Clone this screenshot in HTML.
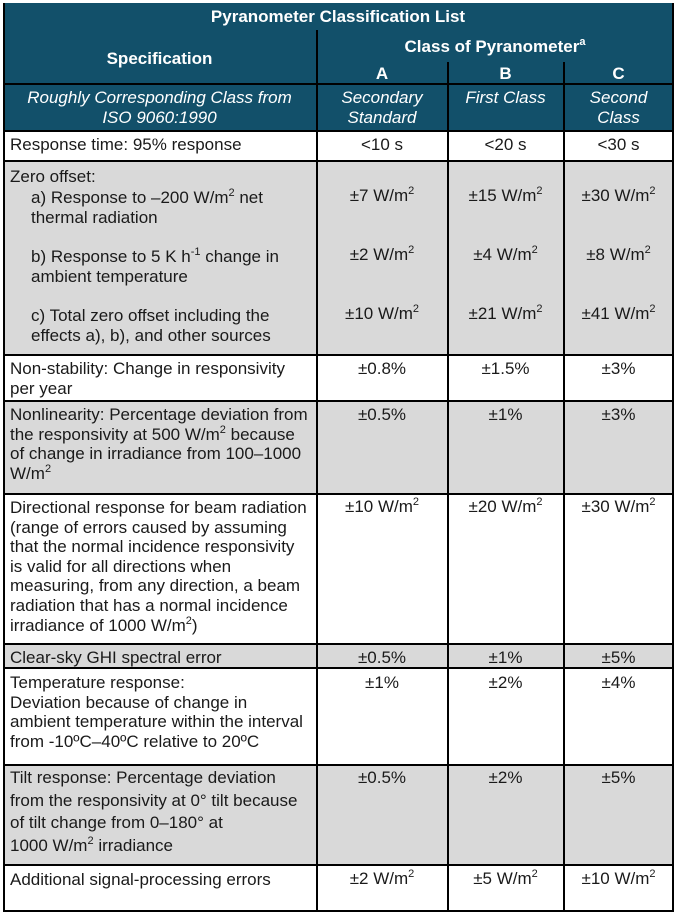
<!DOCTYPE html><html><head><style>
body{margin:0;width:675px;height:915px;background:#fff;position:relative;font-family:"Liberation Sans",Arial,sans-serif;font-size:17px;color:#1a1a1a;overflow:hidden}
.a{position:absolute}
.h{background:#12506a;color:#fff}
.g{background:#d9d9d9}
.t{position:absolute;line-height:19.6px;white-space:nowrap}
.c{text-align:center}
.vl{position:absolute;width:1.5px;background:#000}
.hl{position:absolute;height:1.5px;background:#000;left:3px;width:670px}
sup{font-size:11px;line-height:0;vertical-align:7px}
</style></head><body>
<div class="a h" style="left:3px;top:3px;width:670px;height:128px"></div>
<div class="a g" style="left:3px;top:161px;width:670px;height:193px"></div>
<div class="a g" style="left:3px;top:401px;width:670px;height:92px"></div>
<div class="a g" style="left:3px;top:644px;width:670px;height:24px"></div>
<div class="a g" style="left:3px;top:764px;width:670px;height:100px"></div>
<div class="hl" style="top:83px"></div>
<div class="hl" style="top:130px"></div>
<div class="hl" style="top:160px"></div>
<div class="hl" style="top:354px"></div>
<div class="hl" style="top:400px"></div>
<div class="hl" style="top:493px"></div>
<div class="hl" style="top:643px"></div>
<div class="hl" style="top:667px"></div>
<div class="hl" style="top:764px"></div>
<div class="hl" style="top:864px"></div>
<div class="hl" style="top:910px"></div>
<div class="vl" style="left:3px;top:3px;height:909px"></div>
<div class="vl" style="left:672px;top:3px;height:909px"></div>
<div class="vl" style="left:316px;top:30px;height:882px"></div>
<div class="vl" style="left:447px;top:62px;height:850px"></div>
<div class="vl" style="left:563px;top:62px;height:850px"></div>
<div class="t c" style="left:3px;width:670px;top:7px;color:#fff;font-weight:bold">Pyranometer Classification List</div>
<div class="t c" style="left:3px;width:313px;top:49px;color:#fff;font-weight:bold">Specification</div>
<div class="t c" style="left:317px;width:356px;top:37px;color:#fff;font-weight:bold">Class of Pyranometer<sup>a</sup></div>
<div class="t c" style="left:317px;width:130px;top:64px;color:#fff;font-weight:bold">A</div>
<div class="t c" style="left:448px;width:115px;top:64px;color:#fff;font-weight:bold">B</div>
<div class="t c" style="left:564px;width:109px;top:64px;color:#fff;font-weight:bold">C</div>
<div class="t c" style="left:3px;width:313px;top:88px;color:#fff;font-style:italic">Roughly Corresponding Class from<br>ISO 9060:1990</div>
<div class="t c" style="left:317px;width:130px;top:88px;color:#fff;font-style:italic">Secondary<br>Standard</div>
<div class="t c" style="left:448px;width:115px;top:88px;color:#fff;font-style:italic">First Class</div>
<div class="t c" style="left:564px;width:109px;top:88px;color:#fff;font-style:italic">Second<br>Class</div>
<div class="t" style="left:10px;top:135px">Response time: 95% response</div>
<div class="t c" style="left:317px;width:130px;top:135px">&lt;10 s</div>
<div class="t c" style="left:448px;width:115px;top:135px">&lt;20 s</div>
<div class="t c" style="left:564px;width:109px;top:135px">&lt;30 s</div>
<div class="t" style="left:10px;top:167px">Zero offset:</div>
<div class="t" style="left:31px;top:188px">a) Response to –200 W/m<sup>2</sup> net<br>thermal radiation</div>
<div class="t" style="left:31px;top:247px">b) Response to 5 K h<sup>-1</sup> change in<br>ambient temperature</div>
<div class="t" style="left:31px;top:306px">c) Total zero offset including the<br>effects a), b), and other sources</div>
<div class="t c" style="left:317px;width:130px;top:186px">±7 W/m<sup>2</sup></div>
<div class="t c" style="left:448px;width:115px;top:186px">±15 W/m<sup>2</sup></div>
<div class="t c" style="left:564px;width:109px;top:186px">±30 W/m<sup>2</sup></div>
<div class="t c" style="left:317px;width:130px;top:245px">±2 W/m<sup>2</sup></div>
<div class="t c" style="left:448px;width:115px;top:245px">±4 W/m<sup>2</sup></div>
<div class="t c" style="left:564px;width:109px;top:245px">±8 W/m<sup>2</sup></div>
<div class="t c" style="left:317px;width:130px;top:304px">±10 W/m<sup>2</sup></div>
<div class="t c" style="left:448px;width:115px;top:304px">±21 W/m<sup>2</sup></div>
<div class="t c" style="left:564px;width:109px;top:304px">±41 W/m<sup>2</sup></div>
<div class="t" style="left:10px;top:359px">Non-stability: Change in responsivity<br>per year</div>
<div class="t c" style="left:317px;width:130px;top:359px">±0.8%</div>
<div class="t c" style="left:448px;width:115px;top:359px">±1.5%</div>
<div class="t c" style="left:564px;width:109px;top:359px">±3%</div>
<div class="t" style="left:10px;top:405px">Nonlinearity: Percentage deviation from<br>the responsivity at 500 W/m<sup>2</sup> because<br>of change in irradiance from 100–1000<br>W/m<sup>2</sup></div>
<div class="t c" style="left:317px;width:130px;top:405px">±0.5%</div>
<div class="t c" style="left:448px;width:115px;top:405px">±1%</div>
<div class="t c" style="left:564px;width:109px;top:405px">±3%</div>
<div class="t" style="left:10px;top:498px">Directional response for beam radiation<br>(range of errors caused by assuming<br>that the normal incidence responsivity<br>is valid for all directions when<br>measuring, from any direction, a beam<br>radiation that has a normal incidence<br>irradiance of 1000 W/m<sup>2</sup>)</div>
<div class="t c" style="left:317px;width:130px;top:497px">±10 W/m<sup>2</sup></div>
<div class="t c" style="left:448px;width:115px;top:497px">±20 W/m<sup>2</sup></div>
<div class="t c" style="left:564px;width:109px;top:497px">±30 W/m<sup>2</sup></div>
<div class="t" style="left:10px;top:648px">Clear-sky GHI spectral error</div>
<div class="t c" style="left:317px;width:130px;top:648px">±0.5%</div>
<div class="t c" style="left:448px;width:115px;top:648px">±1%</div>
<div class="t c" style="left:564px;width:109px;top:648px">±5%</div>
<div class="t" style="left:10px;top:673px">Temperature response:<br>Deviation because of change in<br>ambient temperature within the interval<br>from -10ºC–40ºC relative to 20ºC</div>
<div class="t c" style="left:317px;width:130px;top:673px">±1%</div>
<div class="t c" style="left:448px;width:115px;top:673px">±2%</div>
<div class="t c" style="left:564px;width:109px;top:673px">±4%</div>
<div class="t" style="left:10px;top:767px;line-height:22.5px">Tilt response: Percentage deviation<br>from the responsivity at 0° tilt because<br>of tilt change from 0–180° at<br>1000 W/m<sup>2</sup> irradiance</div>
<div class="t c" style="left:317px;width:130px;top:768px">±0.5%</div>
<div class="t c" style="left:448px;width:115px;top:768px">±2%</div>
<div class="t c" style="left:564px;width:109px;top:768px">±5%</div>
<div class="t" style="left:10px;top:870px">Additional signal-processing errors</div>
<div class="t c" style="left:317px;width:130px;top:869px">±2 W/m<sup>2</sup></div>
<div class="t c" style="left:448px;width:115px;top:869px">±5 W/m<sup>2</sup></div>
<div class="t c" style="left:564px;width:109px;top:869px">±10 W/m<sup>2</sup></div>
</body></html>
